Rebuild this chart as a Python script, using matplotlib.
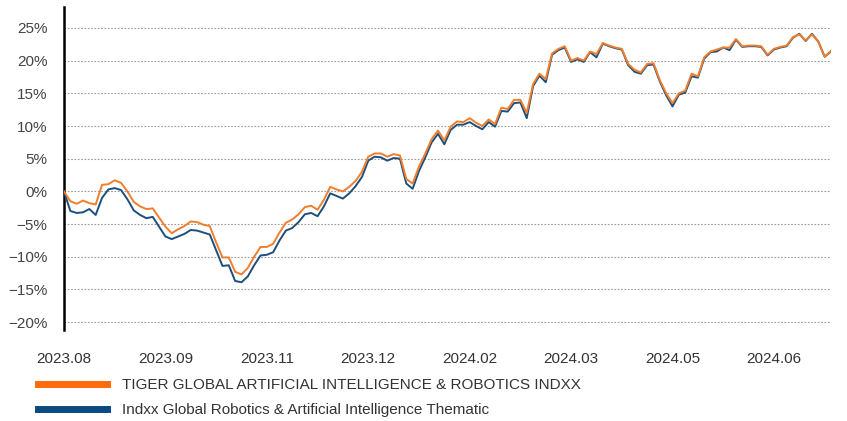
import matplotlib
matplotlib.use("Agg")
import matplotlib.pyplot as plt
from matplotlib.lines import Line2D
from matplotlib import font_manager
import numpy as np

# cumulative return (%), one reading every 2 trading days
tiger = [0.0, -1.5, -1.9, -1.4, -1.8, -2.0, 1.0, 1.1, 1.7, 1.3,
         0.0, -1.6, -2.3, -2.7, -2.6, -4.0, -5.4, -6.4, -5.8, -5.3,
         -4.6, -4.7, -5.1, -5.3, -7.8, -10.1, -10.1, -12.3, -12.7, -11.7,
         -10.0, -8.5, -8.5, -8.0, -6.3, -4.8, -4.3, -3.5, -2.4, -2.2,
         -2.8, -1.3, 0.7, 0.3, 0.0, 0.7, 1.6, 3.0, 5.3, 5.8,
         5.8, 5.3, 5.7, 5.5, 1.9, 1.2, 3.8, 5.8, 8.0, 9.3,
         7.8, 9.9, 10.7, 10.6, 11.2, 10.5, 10.0, 11.0, 10.3, 12.8,
         12.6, 14.0, 14.0, 12.0, 16.4, 18.0, 17.2, 21.1, 21.8, 22.2,
         20.0, 20.4, 20.0, 21.4, 21.0, 22.7, 22.3, 22.0, 21.8, 19.5,
         18.6, 18.2, 19.5, 19.6, 17.0, 15.0, 13.5, 15.0, 15.4, 18.0,
         17.6, 20.5, 21.4, 21.7, 22.0, 22.0, 23.3, 22.2, 22.3, 22.3,
         22.2, 20.9, 21.8, 22.1, 22.3, 23.6, 24.0, 23.1, 24.0, 22.9,
         20.6, 21.5]

indxx = [0.0, -3.0, -3.3, -3.2, -2.7, -3.6, -1.0, 0.3, 0.5, 0.2,
         -1.2, -2.9, -3.6, -4.1, -3.9, -5.4, -6.9, -7.3, -6.9, -6.5,
         -5.9, -6.0, -6.3, -6.6, -9.0, -11.4, -11.3, -13.7, -13.9, -13.0,
         -11.3, -9.8, -9.7, -9.3, -7.5, -6.0, -5.6, -4.7, -3.5, -3.3,
         -3.8, -2.3, -0.3, -0.7, -1.1, -0.3, 0.8, 2.2, 4.7, 5.3,
         5.2, 4.7, 5.1, 5.0, 1.2, 0.4, 3.1, 5.2, 7.5, 8.8,
         7.2, 9.4, 10.2, 10.2, 10.6, 10.0, 9.5, 10.6, 9.9, 12.3,
         12.2, 13.5, 13.6, 11.2, 16.1, 17.7, 16.7, 20.9, 21.6, 22.0,
         19.8, 20.2, 19.8, 21.3, 20.5, 22.6, 22.2, 21.9, 21.7, 19.3,
         18.3, 18.0, 19.3, 19.4, 16.8, 14.7, 13.0, 14.8, 15.1, 17.6,
         17.4, 20.3, 21.3, 21.4, 22.0, 21.6, 23.2, 22.1, 22.2, 22.2,
         22.1, 20.8, 21.7, 22.0, 22.2, 23.5, 24.1, 23.0, 24.1, 22.9,
         20.6, 21.4]

tick_labels = ["2023.08", "2023.09", "2023.11", "2023.12",
               "2024.02", "2024.03", "2024.05", "2024.06"]
tick_step = 16
y_ticks = [-20, -15, -10, -5, 0, 5, 10, 15, 20, 25]

names = ["TIGER GLOBAL ARTIFICIAL INTELLIGENCE & ROBOTICS INDXX",
         "Indxx Global Robotics & Artificial Intelligence Thematic"]

available = {f.name for f in font_manager.fontManager.ttflist}
font = "Liberation Sans Narrow" if "Liberation Sans Narrow" in available else "Liberation Sans"
plt.rcParams["font.family"] = [font, "DejaVu Sans"]

orange = "#F07E2C"
blue = "#1D4F7C"

fig = plt.figure(figsize=(8.47, 4.21), dpi=100)
ax = fig.add_axes([64 / 847, 91 / 421, 767 / 847, 323 / 421])

x = np.arange(len(tiger))
ax.plot(x, indxx, color=blue, lw=1.4, zorder=3)
ax.plot(x, tiger, color=orange, lw=1.4, zorder=4)

ax.set_xlim(0, len(tiger) - 1)
ax.set_ylim(-21.2, 28.2)
ax.set_yticks(y_ticks)
ax.set_yticklabels([f"{v}%".replace("-", "\u2212") for v in y_ticks])
ax.set_xticks(np.arange(len(tick_labels)) * tick_step)
ax.set_xticklabels(tick_labels)

ax.grid(axis="y", color="#9a9a9a", linestyle=(0, (1.5, 1.5)), lw=0.8)
ax.grid(axis="x", visible=False)
for s in ["top", "right", "bottom"]:
    ax.spines[s].set_visible(False)
ax.spines["left"].set_color("black")
ax.spines["left"].set_linewidth(1.8)

ax.tick_params(axis="y", length=0, pad=12, labelsize=11, labelcolor="#444444")
ax.tick_params(axis="x", length=0, pad=16, labelsize=11, labelcolor="#333333")

handles = [Line2D([], [], color="#FF6A0D", lw=5),
           Line2D([], [], color="#0A4A80", lw=5)]
fig.legend(handles, names, loc="upper left",
           bbox_to_anchor=(38 / 847, 1 - 378 / 421), frameon=False,
           fontsize=11, handlelength=4.5, handletextpad=1.0,
           labelspacing=0.72, borderpad=0, borderaxespad=0,
           labelcolor="#333333")

fig.savefig("out.png", dpi=100)
